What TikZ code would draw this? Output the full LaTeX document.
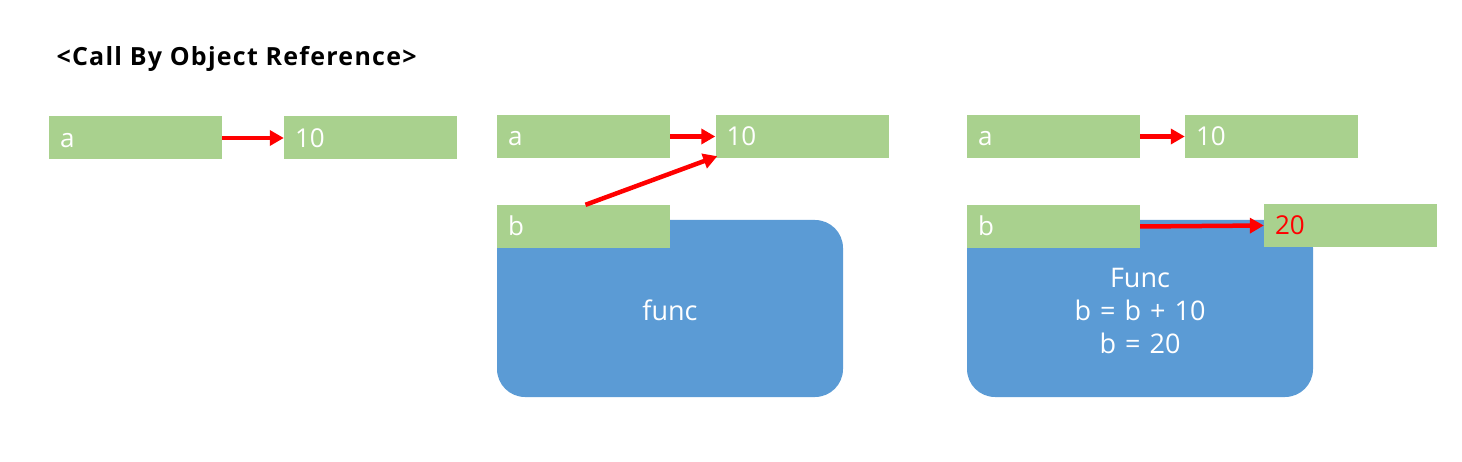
\documentclass[tikz,border=0pt]{standalone}
\usepackage{fontspec}
\setmainfont{Open Sans}
\newfontfamily\titlefont[LetterSpace=5]{Open Sans}
\usetikzlibrary{arrows.meta}
\definecolor{cellgreen}{HTML}{A9D18E}
\definecolor{funcblue}{HTML}{5B9BD5}
\definecolor{arrred}{HTML}{FF0000}
\tikzset{
  cell/.style={fill=cellgreen, draw=none, text=white, minimum height=43pt,
    text width=151pt, inner xsep=11pt, inner ysep=0pt, align=left,
    text height=19pt, text depth=0pt, font=\fontsize{26}{30}\selectfont},
  funcbox/.style={fill=funcblue, draw=none, rounded corners=28pt,
    minimum width=346pt, minimum height=177pt},
  functext/.style={text=white, align=center, font=\fontsize{27}{33}\selectfont},
  ptr/.style={draw=arrred, line width=4.5pt, -{Triangle[length=14pt,width=15pt]}},
  title/.style={anchor=base west, font=\fontsize{25}{29}\titlefont\bfseries}
}
\begin{document}
\begin{tikzpicture}[x=1pt,y=-1pt]
\useasboundingbox (0,0) rectangle (1462,462);
\node[title] (ttl) at (53,66) {<Call By Object Reference>};
% panel 1
\node[cell] (a1) at (135.5,138) {a};
\node[cell] (t1) at (370.5,138) {10};
\draw[ptr] (a1.east) -- (t1.west);
% panel 2
\node[funcbox] (f2) at (670,308.5) {};
\node[functext] (f2t) at ([yshift=-2pt]f2.center) {func};
\node[cell] (a2) at (583.5,136.5) {a};
\node[cell] (t2) at (802,136.5) {10};
\node[cell] (b2) at (583.5,226.5) {b};
\draw[ptr] (a2.east) -- (t2.west);
\draw[ptr] ([xshift=2pt]b2.north) -- ([xshift=2pt,yshift=2pt]t2.south west);
% panel 3
\node[funcbox] (f3) at (1140,308.5) {};
\node[functext] (f3t) at ([yshift=-2pt]f3.center) {Func\\b\,\,=\,\,b\,\,+\,\,10\\b\,\,=\,\,20};
\node[cell] (a3) at (1053.5,136.5) {a};
\node[cell] (t3) at (1271.5,136.5) {10};
\node[cell] (b3) at (1053.5,226.5) {b};
\node[cell, text=arrred] (tw) at (1350.5,225.5) {20};
\draw[ptr] (a3.east) -- (t3.west);
\draw[ptr] (b3.east) -- (tw.west);
\end{tikzpicture}
\end{document}
